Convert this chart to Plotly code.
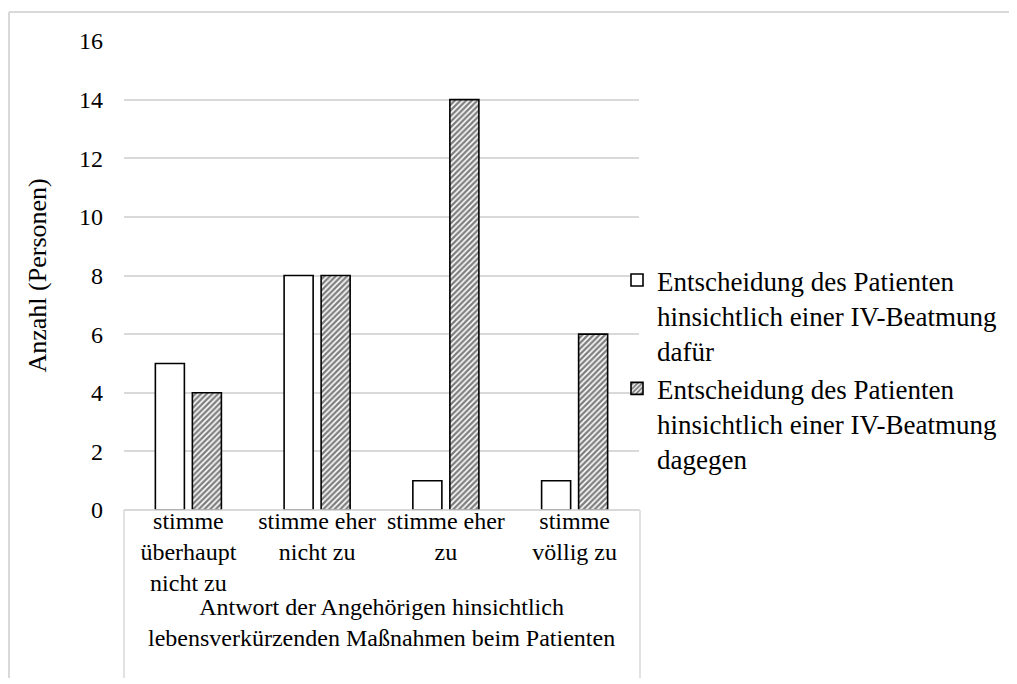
import plotly.graph_objects as go

categories = ["stimme überhaupt nicht zu", "stimme eher nicht zu", "stimme eher zu", "stimme völlig zu"]
tick_labels = ["stimme<br>überhaupt<br>nicht zu", "stimme eher<br>nicht zu", "stimme eher<br>zu", "stimme<br>völlig zu"]
dafuer = [5, 8, 1, 1]
dagegen = [4, 8, 14, 6]
series_names = [
    "Entscheidung des Patienten<br>hinsichtlich einer IV-Beatmung<br>dafür",
    "Entscheidung des Patienten<br>hinsichtlich einer IV-Beatmung<br>dagegen",
]
y_title = "Anzahl (Personen)"
x_title = "Antwort der Angehörigen hinsichtlich<br>lebensverkürzenden Maßnahmen beim Patienten"

FONT = "Liberation Serif, Times New Roman, serif"
GRID = "#d9d9d9"

fig = go.Figure()
fig.add_trace(go.Bar(
    x=categories, y=dafuer, name=series_names[0], legendgroup="a",
    marker=dict(color="white", line=dict(color="black", width=1.6)),
))
fig.add_trace(go.Bar(
    x=categories, y=dagegen, name=series_names[1], legendgroup="b",
    marker=dict(color="white", line=dict(color="black", width=1.6),
                pattern=dict(shape="/", fgcolor="black", bgcolor="white", size=4, solidity=0.6)),
))

# figure sits 8px in from the page corner (page body margin)
W, H = 1009, 676
L, R, T, B = 116, 631, 33, 502
PH = B - T


def py(pix):
    """pixel row (figure coords) -> paper y"""
    return (B - pix) / PH


def px(pix):
    """pixel column (figure coords) -> paper x"""
    return (pix - L) / (R - L)


fig.update_layout(
    width=W, height=H,
    margin=dict(l=L, r=W - R, t=T, b=H - B, autoexpand=False),
    paper_bgcolor="white", plot_bgcolor="white",
    font=dict(family=FONT, size=24, color="black"),
    barmode="group", bargap=0.425, bargroupgap=0.216,
    showlegend=True,
    legend=dict(
        x=px(609), y=py(248), xanchor="left", yanchor="top",
        traceorder="grouped", tracegroupgap=0, valign="top",
        font=dict(family=FONT, size=27, color="black"), bgcolor="rgba(0,0,0,0)",
    ),
    xaxis=dict(
        type="category", categoryorder="array", categoryarray=categories,
        tickvals=categories, ticktext=tick_labels, ticks="",
        showgrid=False, showline=False, zeroline=False,
        range=[-0.5, 3.5], ticklabelstandoff=-6,
        tickfont=dict(family=FONT, size=24, color="black"),
    ),
    yaxis=dict(
        range=[0, 16], dtick=2, ticks="", showline=False,
        showgrid=True, gridcolor=GRID, gridwidth=1.5,
        zeroline=True, zerolinecolor=GRID, zerolinewidth=1.5,
        ticklabelstandoff=20,
        tickfont=dict(family=FONT, size=24, color="black"),
    ),
    annotations=[
        dict(text=y_title, xref="paper", yref="paper", x=0, y=0.5, xshift=-87,
             textangle=-90, showarrow=False, xanchor="center", yanchor="middle",
             font=dict(family=FONT, size=26, color="black")),
        dict(text=x_title, xref="paper", yref="paper", x=0.5, y=0, yshift=-82,
             showarrow=False, xanchor="center", yanchor="top",
             font=dict(family=FONT, size=24, color="black")),
    ],
    shapes=[
        # category box below plot
        dict(type="line", xref="paper", yref="paper", x0=0, x1=px(R + 1), y0=0, y1=0,
             line=dict(color=GRID, width=1.5)),
        dict(type="line", xref="paper", yref="paper", x0=0, x1=0, y0=0, y1=py(670),
             line=dict(color=GRID, width=1.5)),
        dict(type="line", xref="paper", yref="paper", x0=px(R + 1), x1=px(R + 1), y0=0, y1=py(670),
             line=dict(color=GRID, width=1.5)),
        # outer chart border (left and top)
        dict(type="line", xref="paper", yref="paper",
             x0=px(1), x1=px(1), y0=py(4), y1=py(670),
             line=dict(color=GRID, width=2)),
        dict(type="line", xref="paper", yref="paper",
             x0=px(1), x1=px(W + 20), y0=py(4), y1=py(4),
             line=dict(color=GRID, width=2)),
    ],
)

fig.write_html("out.html")
